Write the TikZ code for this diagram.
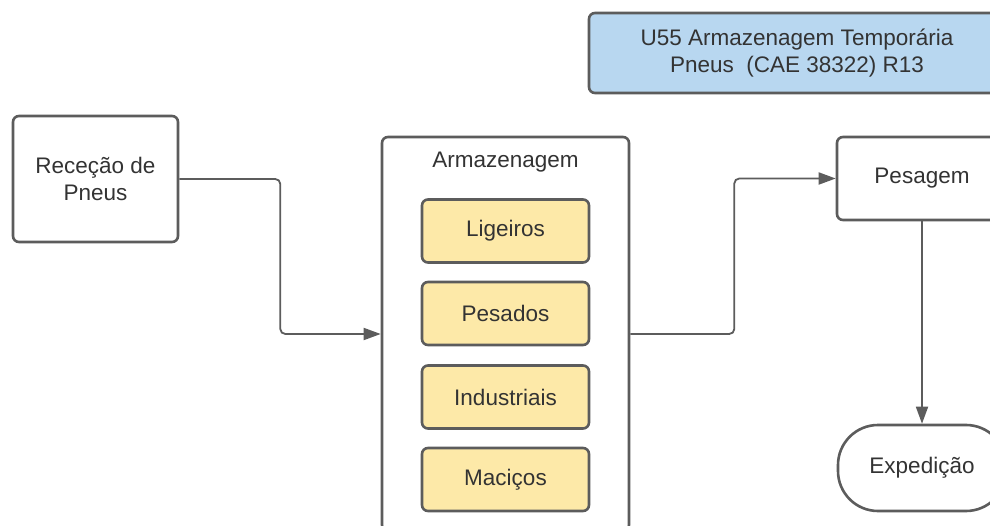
\documentclass[tikz,border=0pt]{standalone}
\usepackage{fontspec}
\setmainfont{Liberation Sans}
\usetikzlibrary{arrows.meta}
\definecolor{edge}{HTML}{5C5C5C}
\definecolor{ink}{HTML}{333333}
\definecolor{skyfill}{HTML}{B8D7F0}
\definecolor{sandfill}{HTML}{FDE9A8}
\begin{document}
\begin{tikzpicture}[x=1pt,y=-1pt,
  font=\fontsize{22.5}{27.5}\selectfont,
  box/.style={draw=edge,line width=2.6pt,rounded corners=6pt,fill=white,
    text=ink,align=center,inner sep=0pt},
  item/.style={box,fill=sandfill,minimum width=167pt,minimum height=63pt},
  conn/.style={draw=edge,line width=1.8pt,rounded corners=5pt,
    -{Triangle[length=17pt,width=12pt]}}]
  \clip (0,0) rectangle (990,526);
  \fill[white] (0,0) rectangle (990,526);

  % title banner
  \node[box,fill=skyfill,minimum width=416pt,minimum height=80pt] (title) at (797,53)
    {U55 Armazenagem Temporária\\Pneus\ \ (CAE 38322) R13};

  % process boxes
  \node[box,minimum width=165pt,minimum height=126pt] (rec) at (95.5,179)
    {Receção de\\Pneus};
  \node[box,minimum width=247pt,minimum height=394pt] (arm) at (505.5,334) {};
  \node[text=ink] (armtitle) at (505.5,162) {Armazenagem};
  \node[item] (lig) at (505.5,231) {Ligeiros};
  \node[item] (pesd) at (505.5,313.5) {Pesados};
  \node[item] (ind) at (505.5,397) {Industriais};
  \node[item] (mac) at (505.5,479.5) {Maciços};
  \node[box,minimum width=170pt,minimum height=83pt] (pes) at (922,178.5) {Pesagem};
  \node[box,rounded corners=40pt,minimum width=168pt,minimum height=86pt] (exp)
    at (922,468) {Expedição};

  % connectors
  \draw[conn] (rec.east) -- ++(101,0) |- (arm.west);
  \draw[conn] (arm.east) -- ++(104,0) |- (pes.west);
  \draw[conn] (pes.south) -- (exp.north);
\end{tikzpicture}
\end{document}
